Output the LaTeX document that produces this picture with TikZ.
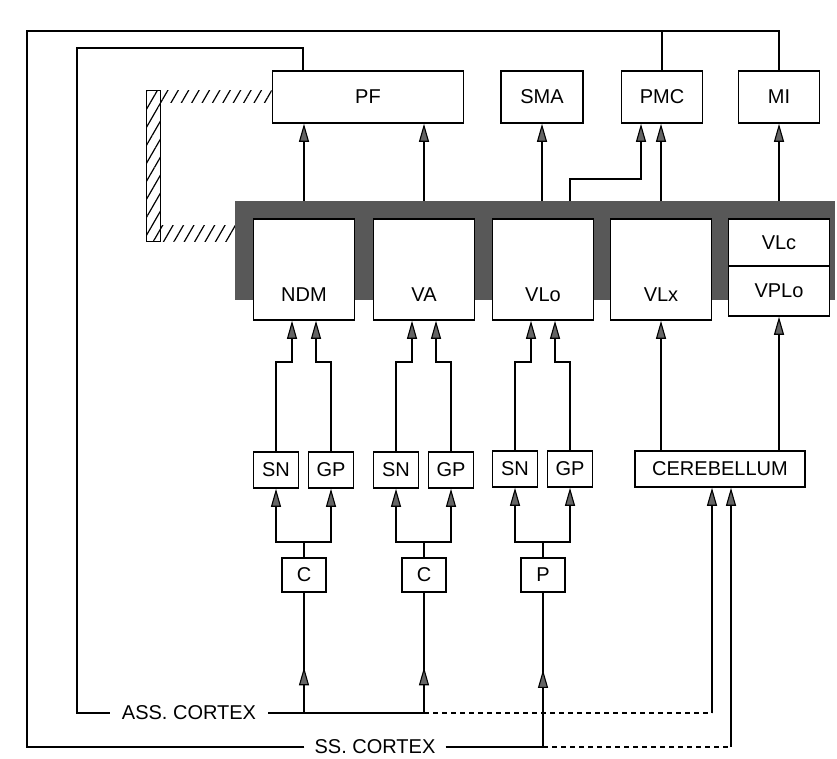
\documentclass[tikz,border=0pt]{standalone}
\usepackage{fontspec}
\setmainfont{Liberation Sans}
\usetikzlibrary{arrows.meta,decorations.markings,patterns.meta}
\definecolor{bandgray}{RGB}{88,88,88}
\definecolor{tipgray}{RGB}{100,100,100}
\begin{document}
\begin{tikzpicture}[x=1pt,y=-1pt,
  lbl/.style={font=\fontsize{20}{22}\selectfont},
  bx/.style={draw,line width=1.6pt,fill=white,inner sep=0pt,font=\fontsize{20}{22}\selectfont},
  wire/.style={line width=1.5pt},
  arr/.style={-{Triangle[length=18pt,width=10pt,fill=tipgray,line width=1.1pt]}},
  midarr/.style={postaction={decorate},decoration={markings,mark=at position #1 with {\arrow{Triangle[length=18pt,width=10pt,fill=tipgray,line width=1.1pt]}}}},
  midarr/.default=0.4,
  dashline/.style={line width=1.5pt,dash pattern=on 5pt off 4pt},
  hatch/.style={pattern={Lines[angle=60,distance=9pt,line width=1.2pt]},pattern color=black},
  nuc/.style={bx,minimum width=101pt,minimum height=101pt},
  topbx/.style={bx,minimum height=52pt},
  small/.style={bx,minimum width=45pt,minimum height=36pt},
  inbx/.style={bx,minimum width=44pt,minimum height=34pt},
]
\useasboundingbox (0,0) rectangle (837,759);

% grey thalamic band
\node[fill=bandgray,minimum width=600pt,minimum height=99pt,inner sep=0pt] (band) at (535,250.5) {};

% nuclei
\node[nuc,label={[lbl,anchor=center,yshift=26pt]south:NDM}] (ndm) at (304,269.5) {};
\node[nuc,label={[lbl,anchor=center,yshift=26pt]south:VA}] (va) at (424,269.5) {};
\node[nuc,label={[lbl,anchor=center,yshift=26pt]south:VLo}] (vlo) at (543,269.5) {};
\node[nuc,label={[lbl,anchor=center,yshift=26pt]south:VLx}] (vlx) at (661,269.5) {};
\node[bx,minimum width=101pt,minimum height=47pt] (vlc) at (779,242.5) {VLc};
\node[bx,minimum width=101pt,minimum height=50pt] (vplo) at (779,291) {VPLo};

% cortical targets
\node[topbx,minimum width=191pt] (pf) at (368,97) {PF};
\node[topbx,minimum width=82pt] (sma) at (542,97) {SMA};
\node[topbx,minimum width=81pt] (pmc) at (662,97) {PMC};
\node[topbx,minimum width=81pt] (mi) at (779,97) {MI};

% basal ganglia
\node[small] (sn1) at (276,470) {SN};
\node[small] (gp1) at (331,470) {GP};
\node[small] (sn2) at (396,470) {SN};
\node[small] (gp2) at (451,470) {GP};
\node[small] (sn3) at (515,469) {SN};
\node[small] (gp3) at (570,469) {GP};
\node[inbx] (c1) at (304,575) {C};
\node[inbx] (c2) at (424,575) {C};
\node[inbx] (p3) at (543,575) {P};
\node[bx,minimum width=170pt,minimum height=36pt] (cer) at (720,469) {CEREBELLUM};

% cortex labels
\node[lbl,inner xsep=12pt,inner ysep=0pt] (ass) at (189,713) {ASS.\ CORTEX};
\node[lbl,inner xsep=10pt,inner ysep=0pt] (ss) at (375,747) {SS.\ CORTEX};

\coordinate (ass1) at (304,713);
\coordinate (ass2) at (424,713);
\coordinate (assend) at (712,713);
\coordinate (ss3) at (543,747);
\coordinate (ssend) at (731,747);
\coordinate (outtl) at (27,31);
\coordinate (s1) at (304,542);
\coordinate (s2) at (424,542);
\coordinate (s3) at (543,542);

% hatched pathway
\path[hatch] (pf.west |- 0,91) rectangle (160,103);
\path[hatch] (146,91) rectangle (160,242);
\draw[line width=1pt] (146,91) rectangle (160,242);
\path[hatch] (160,226) rectangle (band.west |- 0,242);

% band to cortex
\draw[wire,arr] (band.north -| ndm.north) -- (pf.south -| ndm.north);
\draw[wire,arr] (band.north -| va.north) -- (pf.south -| va.north);
\draw[wire,arr] (band.north -| sma.south) -- (sma.south);
\draw[wire,arr] (band.north -| 570,0) |- (641,179) -- (pmc.south -| 641,0);
\draw[wire,arr] (band.north -| vlx.north) -- (pmc.south -| vlx.north);
\draw[wire,arr] (band.north -| mi.south) -- (mi.south);

% columns: SN/GP to nuclei
\draw[wire,arr] (sn1.north) |- (292,362) -- (ndm.south -| 292,0);
\draw[wire,arr] (gp1.north) |- (316,362) -- (ndm.south -| 316,0);
\draw[wire,arr] (sn2.north) |- (412,362) -- (va.south -| 412,0);
\draw[wire,arr] (gp2.north) |- (436,362) -- (va.south -| 436,0);
\draw[wire,arr] (sn3.north) |- (531,362) -- (vlo.south -| 531,0);
\draw[wire,arr] (gp3.north) |- (555,362) -- (vlo.south -| 555,0);

% C/P to SN/GP
\draw[wire] (c1.north) -- (s1);
\draw[wire,arr] (s1) -| (sn1.south);
\draw[wire,arr] (s1) -| (gp1.south);
\draw[wire] (c2.north) -- (s2);
\draw[wire,arr] (s2) -| (sn2.south);
\draw[wire,arr] (s2) -| (gp2.south);
\draw[wire] (p3.north) -- (s3);
\draw[wire,arr] (s3) -| (sn3.south);
\draw[wire,arr] (s3) -| (gp3.south);

% cerebellum
\draw[wire,arr] (cer.north -| vlx.south) -- (vlx.south);
\draw[wire,arr] (cer.north -| vplo.south) -- (vplo.south);
\draw[wire,arr] (assend) -- (cer.south -| assend);
\draw[wire,arr] (ssend) -- (cer.south -| ssend);

% cortical inputs
\draw[wire,midarr=0.38] (ass1) -- (c1.south);
\draw[wire,midarr=0.38] (ass2) -- (c2.south);
\draw[wire,midarr=0.5] (ss3) -- (p3.south);

% association cortex line and inner frame
\draw[wire] (ass.west) -- (77,713) -- (77,48) -- (303,48) -- (pf.north -| 303,0);
\draw[wire] (ass.east) -- (ass1) -- (ass2);
\draw[dashline] (ass2) -- (assend);

% somatosensory cortex line and outer frame
\draw[wire] (ss.west) -- (outtl |- ss.west) -- (outtl) -- (outtl -| mi.north) -- (mi.north);
\draw[wire] (pmc.north) -- (pmc.north |- outtl);
\draw[wire] (ss.east) -- (ss3);
\draw[dashline] (ss3) -- (ssend);
\end{tikzpicture}
\end{document}
